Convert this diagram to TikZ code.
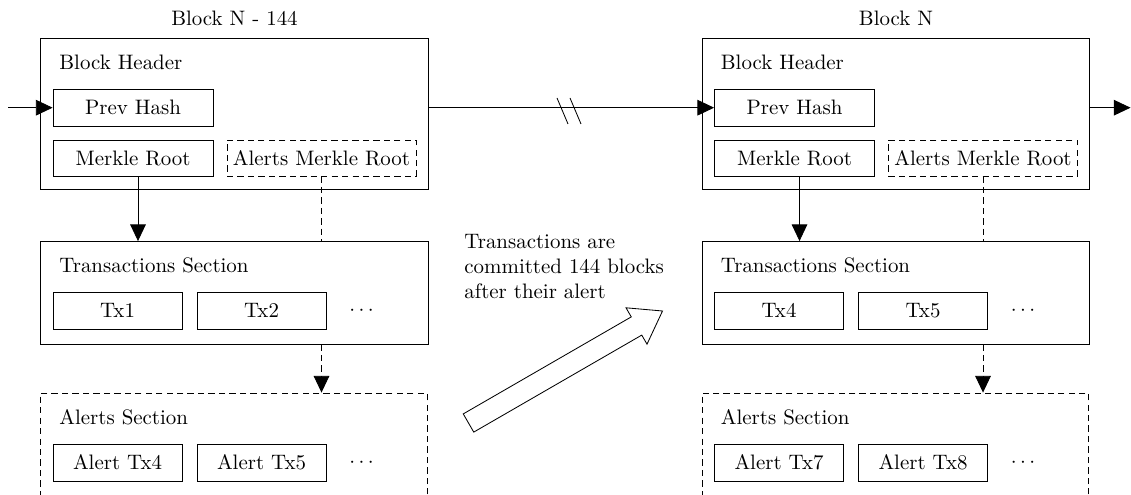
\documentclass[tikz,border=0pt]{standalone}
\usetikzlibrary{arrows.meta}
\newdimen\pxunit
\pxunit=0.478pt
\begin{document}
\begin{tikzpicture}[x=0.478pt,y=-0.478pt,
  cellbox/.style={draw, inner sep=0pt, minimum width=#1},
  secbox/.style={draw, inner sep=0pt},
  dsh/.style={dash pattern=on 3pt off 2pt},
  conn/.style={-{Triangle[length=8pt,width=7.5pt]}},
  lbl/.style={anchor=base west, inner sep=0pt},
  font=\fontsize{10pt}{12pt}\selectfont]
\useasboundingbox (0,0) rectangle (1131,495);
\foreach \p/\ox/\ttl/\ta/\tb/\aa/\ab in {L/0/Block N - 144/Tx1/Tx2/Alert Tx4/Alert Tx5,R/661.5/Block N/Tx4/Tx5/Alert Tx7/Alert Tx8}{
 \begin{scope}[shift={(\ox,0)}]
  \node (\p title) at (234.5,18) {\ttl};
  \node[secbox, minimum width=387.5*\pxunit, minimum height=151*\pxunit] (\p hdr) at (234.25,113.5) {};
  \node[lbl] (\p hlbl) at (59,70) {Block Header};
  \node[secbox, minimum width=160*\pxunit, minimum height=37*\pxunit] (\p prev) at (133,107.7) {Prev Hash};
  \node[secbox, minimum width=160*\pxunit, minimum height=36*\pxunit] (\p merkle) at (133,158) {Merkle Root};
  \node[secbox, dsh, minimum width=189*\pxunit, minimum height=36*\pxunit] (\p amr) at (321.5,158) {Alerts Merkle Root};
  \node[secbox, minimum width=387.5*\pxunit, minimum height=102.5*\pxunit] (\p trans) at (234.25,292.75) {};
  \node[lbl] (\p tlbl) at (59,272.5) {Transactions Section};
  \node[secbox, minimum width=129*\pxunit, minimum height=37*\pxunit] (\p txa) at (117.5,310.5) {\ta};
  \node[secbox, minimum width=129*\pxunit, minimum height=37*\pxunit] (\p txb) at (261.5,310.5) {\tb};
  \node (\p tdots) at (361.5,310.5) {$\cdots$};
  \node[secbox, dsh, minimum width=386.5*\pxunit, minimum height=102*\pxunit] (\p alerts) at (233.75,444) {};
  \node[lbl] (\p albl) at (59,424.5) {Alerts Section};
  \node[secbox, minimum width=129*\pxunit, minimum height=37*\pxunit] (\p axa) at (117.5,462.5) {\aa};
  \node[secbox, minimum width=129*\pxunit, minimum height=37*\pxunit] (\p axb) at (261.5,462.5) {\ab};
  \node (\p adots) at (361.5,462.5) {$\cdots$};
  \coordinate (\p m1) at ([xshift=5*\pxunit]\p merkle.south);
  \draw[conn] (\p m1) -- (\p m1 |- \p trans.north);
  \draw[dsh] (\p amr.south) -- (\p amr.south |- \p trans.north);
  \draw[conn, dsh] (\p amr.south |- \p trans.south) -- (\p amr.south |- \p alerts.north);
 \end{scope}
}
\coordinate (in) at (8,107.7);
\coordinate (out) at (1130.5,107.7);
\draw[conn] (in) -- (Lprev.west);
\draw[conn] (Lhdr.east |- Lprev.west) -- (Rprev.west);
\draw[conn] (Rhdr.east |- Rprev.west) -- (out);
% break marks
\draw (557,98) -- (568,124);
\draw (570,98) -- (581,124);
% note
\node[anchor=north west, align=left, inner sep=0pt] (note) at (464,234)
  {Transactions are\\committed 144 blocks\\after their alert};
% big hollow arrow
\draw[fill=white] (473.75,432.1) -- (463.25,413.9) -- (631.25,316.9) -- (626,307.8)
  -- (662.5,311) -- (647,344.2) -- (641.75,335.1) -- cycle;
\end{tikzpicture}
\end{document}
